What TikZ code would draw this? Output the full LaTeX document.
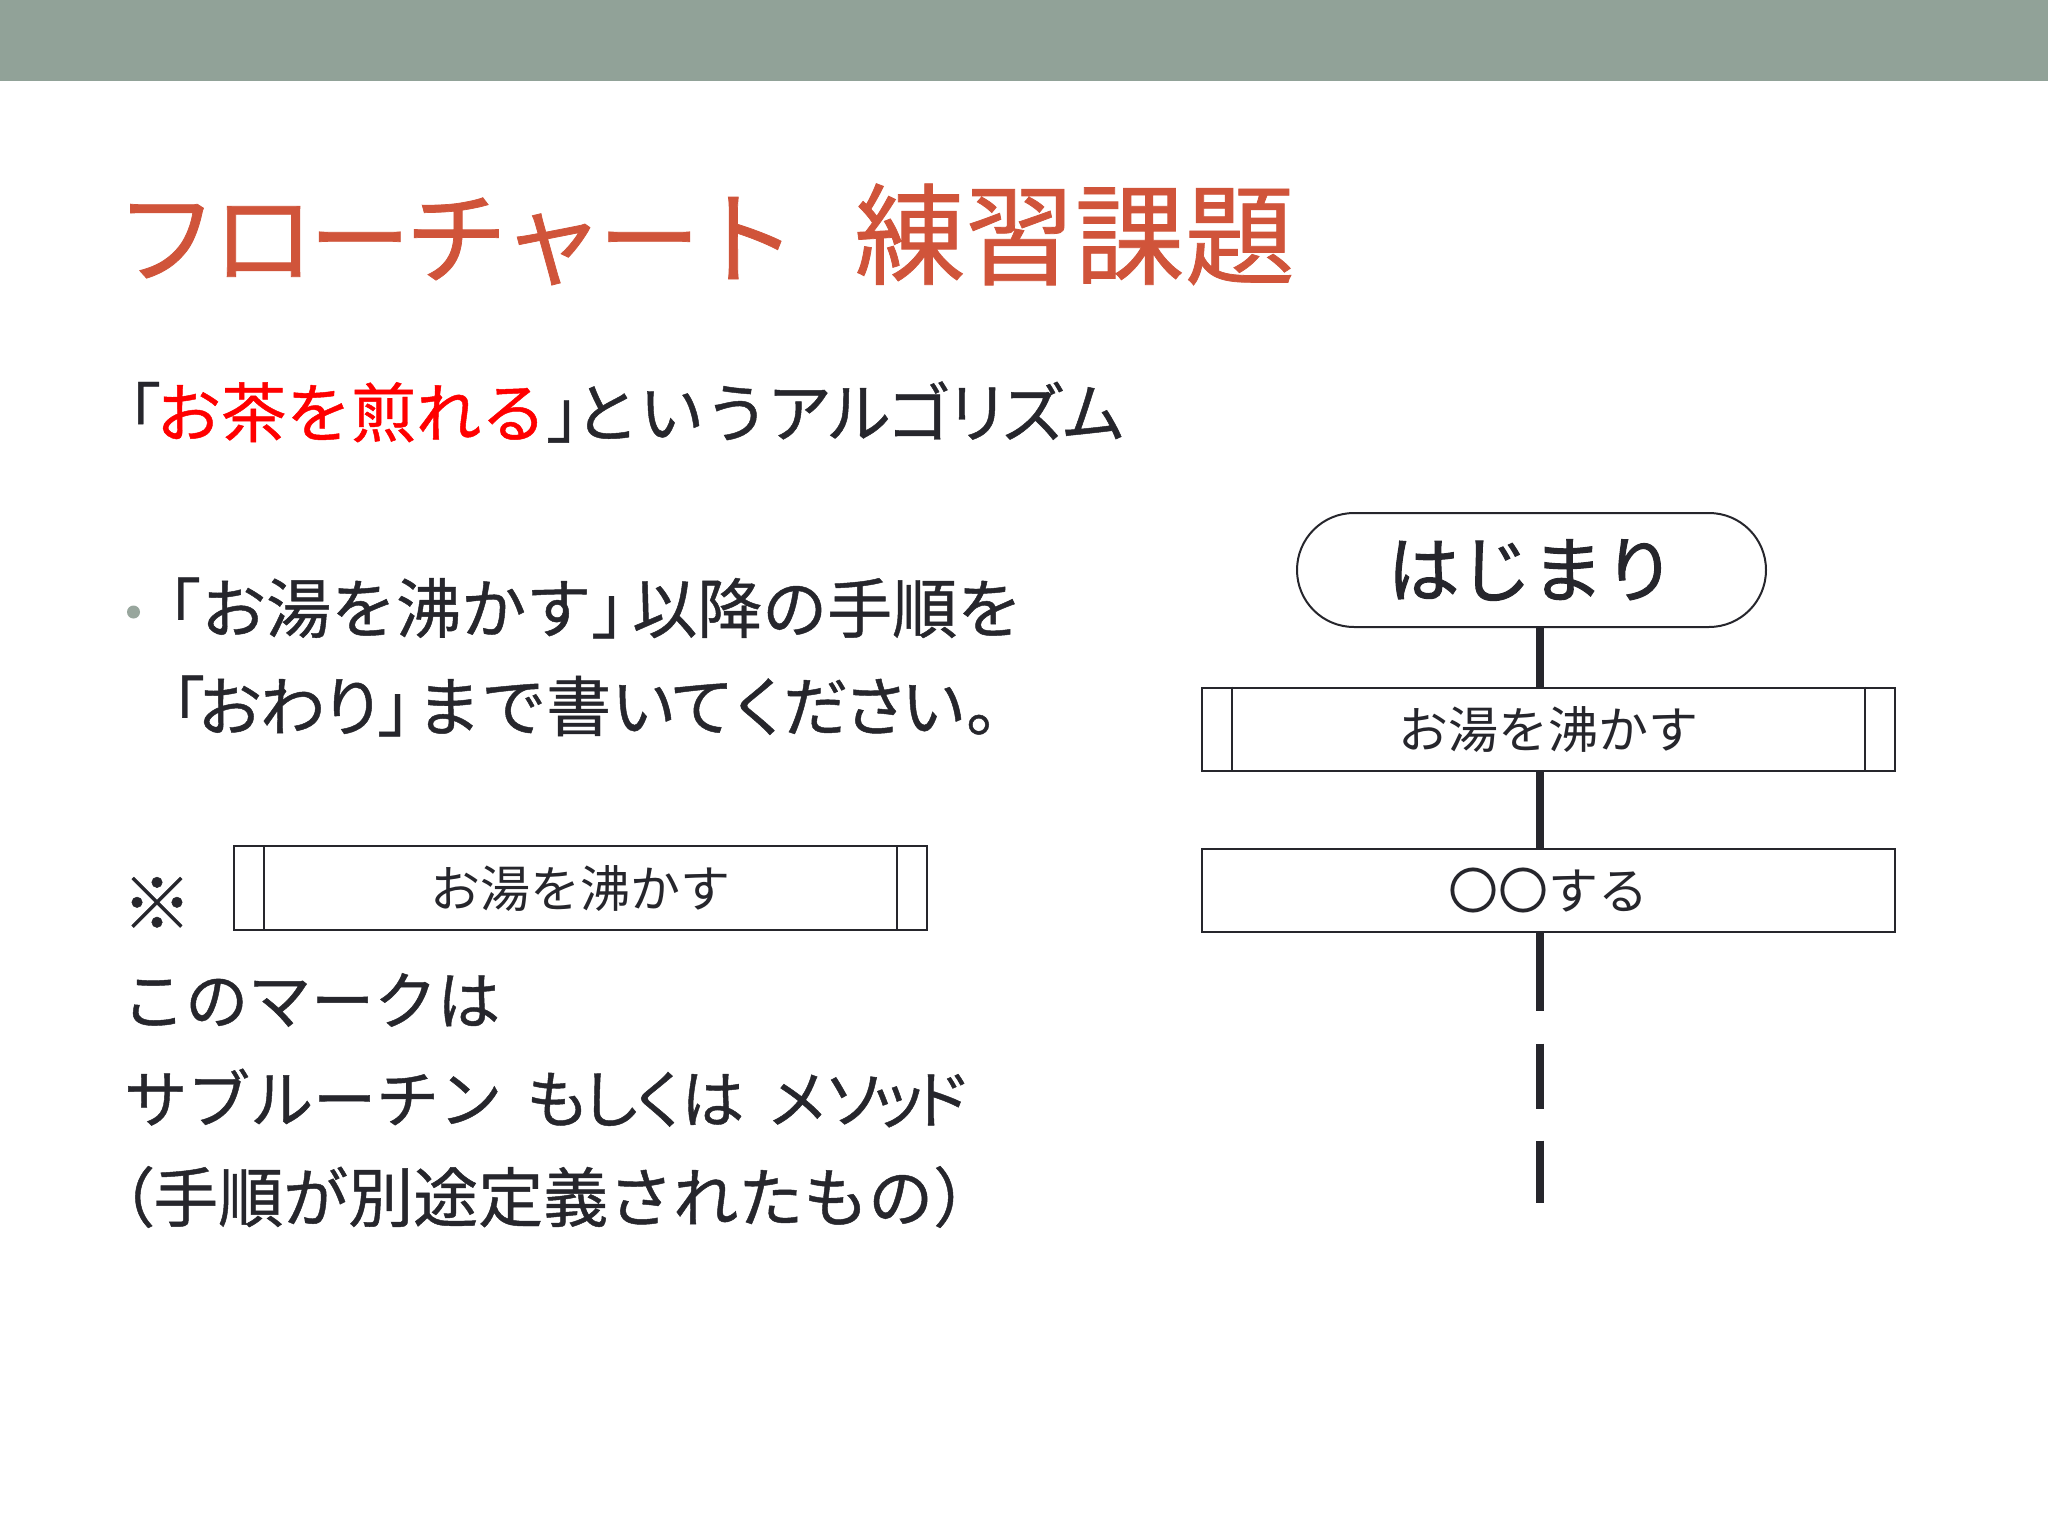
\documentclass[tikz,border=0pt]{standalone}
\usepackage{fontspec}
\newfontfamily\jp{Noto Sans CJK JP}
\newfontfamily\jpm[FakeBold=0.7]{Noto Sans CJK JP}
\newfontfamily\jpb[FakeBold=1.4]{Noto Sans CJK JP}
\newcommand\pk[1]{{\addfontfeature{RawFeature=+palt}#1}}
\definecolor{hdr}{RGB}{145,162,152}
\definecolor{ttl}{RGB}{208,84,58}
\definecolor{ink}{RGB}{38,38,44}
\definecolor{bul}{RGB}{152,166,157}
\definecolor{redtxt}{RGB}{255,0,0}
\begin{document}
\begin{tikzpicture}[x=1pt,y=-1pt,
  txt/.style={inner sep=0pt, anchor=west, text=ink, font=\jpm\fontsize{65}{78}\selectfont},
  note/.style={inner sep=0pt, anchor=west, text=ink, font=\jpm\fontsize{63}{76}\selectfont},
  boxtxt/.style={text=ink, font=\jp\fontsize{50}{60}\selectfont},
  flowbox/.style={draw=ink, line width=2pt, minimum width=693pt, minimum height=83pt, inner sep=0pt, boxtxt},
  termbox/.style={draw=ink, line width=2pt, rounded corners=57pt, minimum width=469pt, minimum height=114pt, inner sep=0pt, text=ink, font=\jpb\fontsize{72}{86}\selectfont},
  subline/.style={draw=ink, line width=2pt},
  conn/.style={draw=ink, line width=8pt}]
\useasboundingbox (0,0) rectangle (2048,1536);
\fill[white] (0,0) rectangle (2048,1536);
\fill[hdr] (0,0) rectangle (2048,81);
% title
\node[inner sep=0pt, anchor=base west, text=ttl, font=\jpm\fontsize{102}{120}\selectfont] (title) at (115.5,276)
  {フ\kern-5.5ptロ\kern-5.5ptー\kern-5.5ptチ\kern-5.5ptャ\kern-5.5ptー\kern-5.5ptト\hspace{58pt}{\fontsize{110}{120}\selectfont 練習課題}};
% subtitle
\node[txt] (algo) at (96,412) {「\hspace{-5pt}{\color{redtxt}お茶を煎れる}」\hspace{-37pt}という\pk{アルゴリズム}};
% bullet text
\fill[bul] (133.5,612) circle (6.5);
\node[txt] (l1) at (136,608) {「お湯を沸かす」\hspace{-24pt}以降の手順を};
\node[txt] (l2) at (140,706) {「\hspace{-8pt}お\kern-2ptわ\kern-5ptり\kern-8pt」\hspace{-26pt}まで書い\kern-7ptて\kern-7ptく\kern-9ptだ\kern-5ptさ\kern-7ptい。};
% mark
\node[inner sep=0pt, text=ink, font=\jpm\fontsize{70}{80}\selectfont] (mark) at (157,903) {※};
\node[flowbox, minimum height=84pt] (sb) at (580.5,888) {お湯を沸かす};
\draw[subline] ([xshift=31pt]sb.north west) -- ([xshift=31pt]sb.south west);
\draw[subline] ([xshift=-31pt]sb.north east) -- ([xshift=-31pt]sb.south east);
\node[note] (n1) at (122,1000) {このマークは};
\node[note] (n2) at (124,1098) {サブルーチン\hspace{24pt}も\kern-10ptし\kern-14ptく\kern-10ptは\hspace{22pt}メ\kern-6ptソ\kern-20ptッ\kern-20ptド};
\node[txt] (n3) at (90,1197) {（\hspace{-2pt}手順が別途定義されたもの）};
% flowchart
\node[termbox] (start) at (1531.5,570) {はじまり};
\node[flowbox] (b1) at (1548.5,729) {お湯を沸かす};
\draw[subline] ([xshift=31pt]b1.north west) -- ([xshift=31pt]b1.south west);
\draw[subline] ([xshift=-31pt]b1.north east) -- ([xshift=-31pt]b1.south east);
\node[flowbox] (b2) at (1548.5,890) {〇〇する};
\coordinate (ax) at (1540,0);
\coordinate (dend) at (1540,1203);
\draw[conn] (ax |- start.south) -- (ax |- b1.north);
\draw[conn] (ax |- b1.south) -- (ax |- b2.north);
\draw[conn, dash pattern=on 78pt off 33pt on 65pt off 32pt on 65pt off 100pt] (ax |- b2.south) -- (dend);
\end{tikzpicture}
\end{document}
